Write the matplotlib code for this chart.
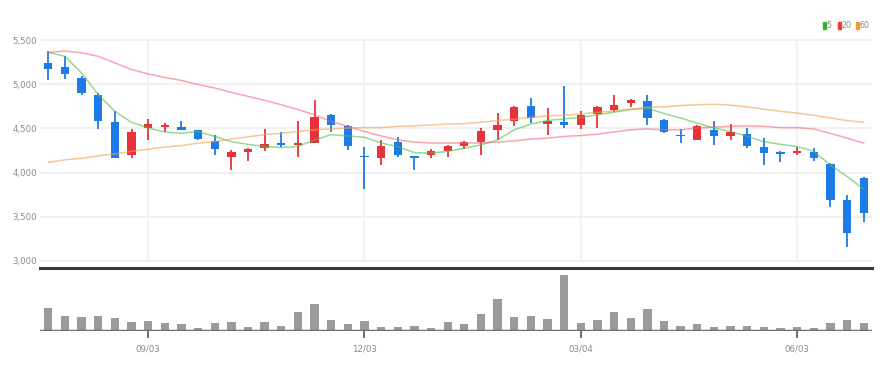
import matplotlib
matplotlib.use("Agg")
import matplotlib.pyplot as plt
from matplotlib import font_manager
from matplotlib.patches import Rectangle

# weekly candles (open, high, low, close)
opens = [5245, 5195, 5075, 4885, 4570, 4195, 4510, 4515, 4520, 4485,
         4360, 4175, 4230, 4275, 4330, 4315, 4335, 4650, 4525, 4190,
         4160, 4350, 4180, 4200, 4240, 4300, 4350, 4485, 4580, 4750,
         4555, 4575, 4540, 4665, 4705, 4790, 4810, 4600, 4430, 4370,
         4485, 4410, 4440, 4295, 4230, 4220, 4235, 4095, 3685, 3940]
highs = [5380, 5320, 5095, 4905, 4700, 4495, 4605, 4560, 4580, 4485,
         4430, 4250, 4275, 4495, 4460, 4580, 4825, 4665, 4535, 4285,
         4370, 4400, 4190, 4270, 4315, 4360, 4500, 4675, 4760, 4845,
         4730, 4985, 4700, 4755, 4880, 4840, 4880, 4605, 4495, 4540,
         4580, 4550, 4505, 4390, 4240, 4285, 4275, 4105, 3750, 3950]
lows = [5050, 5065, 4885, 4495, 4170, 4170, 4370, 4465, 4480, 4370,
        4200, 4030, 4130, 4240, 4285, 4175, 4335, 4465, 4255, 3810,
        4085, 4180, 4030, 4160, 4180, 4270, 4200, 4370, 4530, 4560,
        4430, 4505, 4495, 4505, 4685, 4745, 4540, 4445, 4335, 4370,
        4315, 4370, 4275, 4085, 4115, 4200, 4125, 3605, 3155, 3440]
closes = [5175, 5120, 4905, 4580, 4170, 4465, 4550, 4540, 4485, 4385,
          4265, 4230, 4270, 4325, 4315, 4330, 4630, 4540, 4305, 4175,
          4305, 4195, 4165, 4240, 4305, 4345, 4475, 4535, 4745, 4620,
          4590, 4545, 4655, 4740, 4765, 4825, 4620, 4455, 4410, 4525,
          4410, 4460, 4305, 4225, 4215, 4240, 4160, 3685, 3315, 3540]

# moving averages
ma5 = [5365, 5320, 5130, 4885, 4695, 4570, 4505, 4460, 4445, 4465,
       4410, 4350, 4320, 4295, 4285, 4295, 4370, 4430, 4415, 4400,
       4335, 4295, 4225, 4220, 4240, 4275, 4315, 4370, 4485, 4550,
       4590, 4610, 4625, 4655, 4685, 4715, 4730, 4670, 4620, 4560,
       4505, 4465, 4410, 4350, 4320, 4295, 4240, 4085, 3955, 3810]
ma20 = [5365, 5380, 5360, 5320, 5245, 5170, 5120, 5080, 5045, 5000,
        4960, 4910, 4865, 4820, 4770, 4715, 4655, 4580, 4525, 4465,
        4415, 4370, 4345, 4335, 4335, 4335, 4335, 4345, 4360, 4380,
        4390, 4410, 4420, 4435, 4460, 4485, 4495, 4485, 4485, 4505,
        4515, 4525, 4530, 4525, 4510, 4510, 4495, 4445, 4390, 4335]
ma60 = [4115, 4145, 4160, 4190, 4210, 4240, 4265, 4290, 4305, 4335,
        4350, 4380, 4405, 4430, 4445, 4465, 4485, 4495, 4505, 4510,
        4510, 4525, 4530, 4540, 4550, 4555, 4570, 4590, 4605, 4625,
        4645, 4650, 4665, 4685, 4700, 4720, 4740, 4745, 4760, 4770,
        4775, 4765, 4745, 4720, 4695, 4675, 4650, 4620, 4590, 4570]

volumes = [68, 45, 42, 44, 38, 28, 30, 23, 20, 9,
           23, 28, 12, 28, 14, 58, 81, 33, 20, 30,
           12, 12, 14, 9, 28, 20, 50, 95, 43, 45,
           35, 167, 25, 33, 58, 38, 65, 29, 14, 20,
           13, 14, 14, 13, 9, 13, 9, 24, 33, 23]

tick_pos = [6, 19, 32, 45]
tick_labels = ["09/03", "12/03", "03/04", "06/03"]
price_ticks = [3000, 3500, 4000, 4500, 5000, 5500]

RED = "#e8313a"
BLUE = "#1c7be8"

names = [f.name for f in font_manager.fontManager.ttflist]
if "Liberation Sans Narrow" in names:
    label_font = ["Liberation Sans Narrow", "DejaVu Sans"]
    fs = 7.5
else:
    label_font = ["DejaVu Sans"]
    fs = 6.2

W, H = 890, 372
fig = plt.figure(figsize=(W / 100, H / 100), dpi=100)

def box(l, t, r, b):
    return [l / W, 1 - b / H, (r - l) / W, (b - t) / H]

ax = fig.add_axes(box(40, 30, 872, 268))
axv = fig.add_axes(box(40, 272, 872, 331))

n = len(opens)
x = list(range(n))

# price pane
for i in x:
    c = RED if closes[i] >= opens[i] else BLUE
    ax.vlines(i, lows[i], highs[i], color=c, lw=1.3, zorder=3)
    lo = min(opens[i], closes[i])
    h = max(abs(closes[i] - opens[i]), 18)
    ax.bar(i, h, bottom=lo, width=0.5, color=c, zorder=4, linewidth=0)

ax.plot(x, ma5, color="#4cc24c", lw=1.1, alpha=0.6, zorder=5)
ax.plot(x, ma20, color="#f0606a", lw=1.1, alpha=0.55, zorder=5)
ax.plot(x, ma60, color="#f5a050", lw=1.1, alpha=0.6, zorder=5)

ax.set_xlim(-0.5, n - 0.5)
ax.set_ylim(2915, 5619)
ax.set_yticks(price_ticks)
ax.set_yticklabels([f"{v:,}" for v in price_ticks], family=label_font,
                   fontsize=fs, color="#8a8a8a")
ax.set_xticks([])
ax.tick_params(length=0, pad=2)
ax.grid(True, axis="y", color="#f0f0f0", lw=1.5, zorder=0)
ax.vlines(tick_pos, price_ticks[0], price_ticks[-1], color="#f0f0f0", lw=1.2, zorder=0)
for s in ax.spines.values():
    s.set_visible(False)
ax.axhline(2915, color="#3a3a3a", lw=2.2, zorder=6, clip_on=False)

# volume pane
axv.bar(x, volumes, width=0.5, color="#9b9b9b", zorder=2)
axv.set_xlim(-0.5, n - 0.5)
axv.set_ylim(0, 177)
axv.set_yticks([])
axv.set_xticks(tick_pos)
axv.set_xticklabels(tick_labels, family=label_font, fontsize=fs, color="#8a8a8a")
axv.tick_params(axis="x", length=5, width=1.2, color="#555555", pad=5)
for s in axv.spines.values():
    s.set_visible(False)
axv.axhline(0, color="#707070", lw=2.5, zorder=3)

# legend
leg = [("5", "#2db52d", 822.5, 826.5), ("20", "#ee3b3b", 838, 841.5), ("60", "#f39a33", 856, 859.5)]
for lab, col, xs, xt in leg:
    fig.patches.append(Rectangle((xs / W, 1 - 28.5 / H), 3 / W, 7 / H,
                                 transform=fig.transFigure, color=col))
    fig.text(xt / W, 1 - 25 / H, lab, family=label_font, fontsize=fs - 0.5,
             color="#8a8a8a", va="center", ha="left")

fig.savefig("out.png", dpi=100)
